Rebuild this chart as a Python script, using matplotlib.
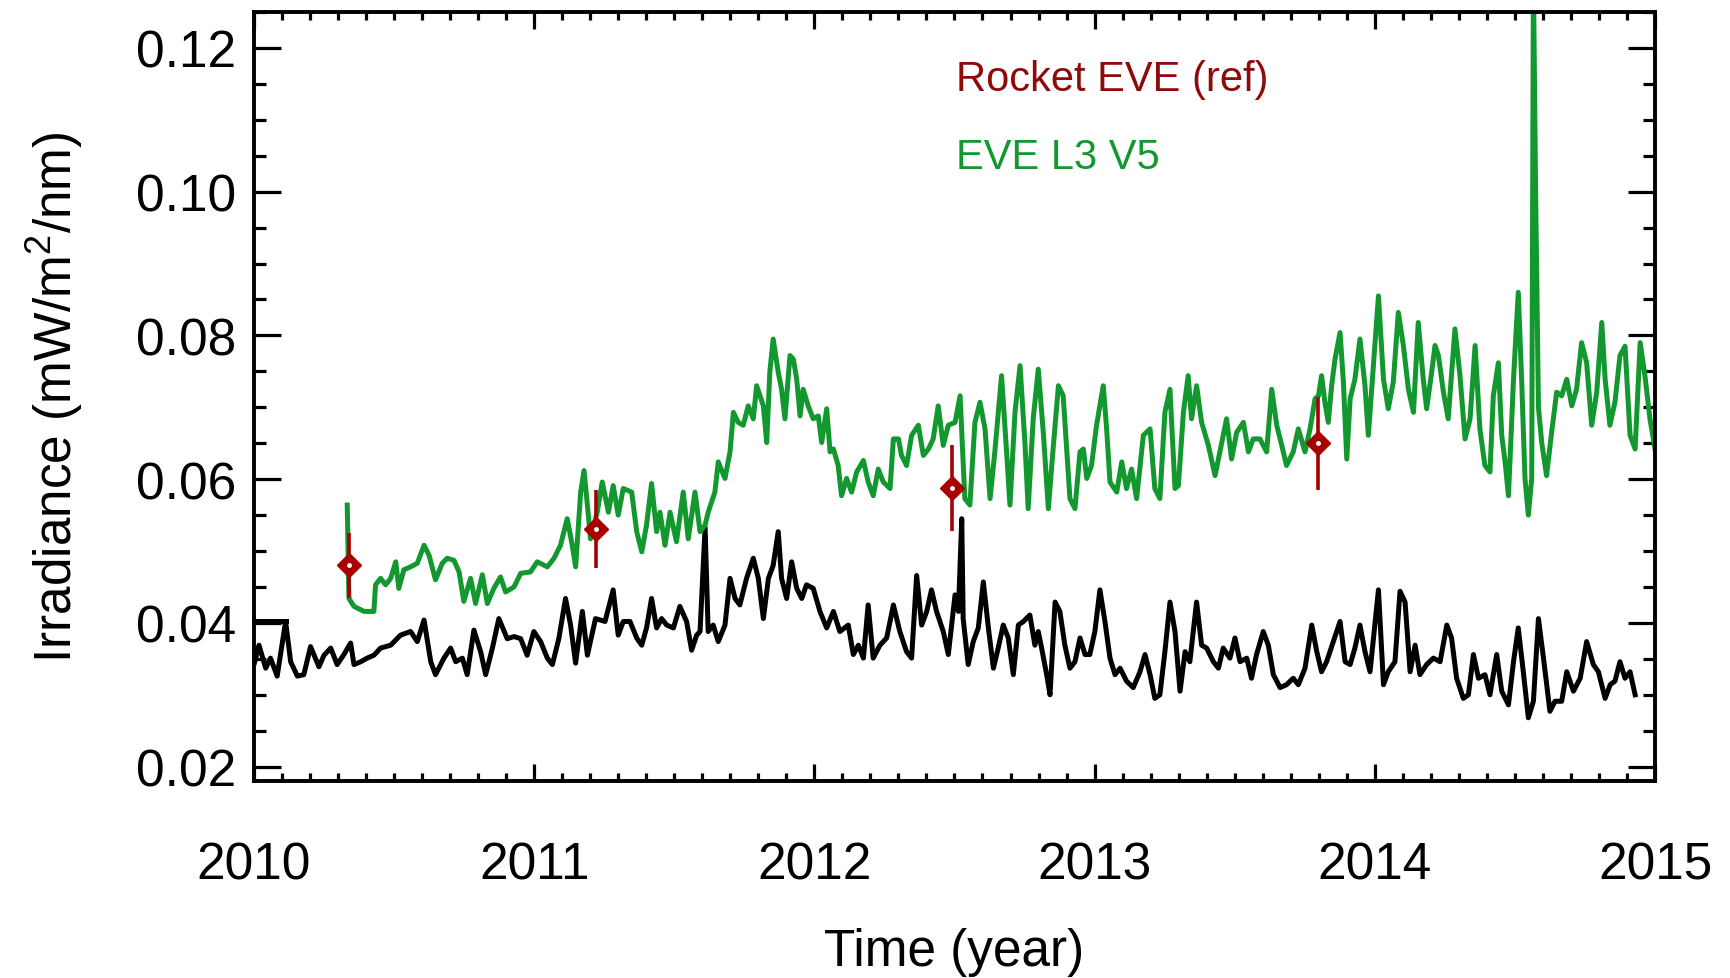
import matplotlib
matplotlib.use("Agg")
import matplotlib.pyplot as plt
from matplotlib.ticker import MultipleLocator, FormatStrFormatter

# black curve (turning points)
black_t = [
    2010.000, 2010.018, 2010.042, 2010.059, 2010.083, 2010.113, 2010.131, 2010.155,
    2010.178, 2010.202, 2010.232, 2010.250, 2010.274, 2010.297, 2010.321, 2010.345,
    2010.357, 2010.381, 2010.404, 2010.428, 2010.452, 2010.488, 2010.523, 2010.559,
    2010.583, 2010.607, 2010.631, 2010.648, 2010.678, 2010.702, 2010.720, 2010.744,
    2010.761, 2010.785, 2010.809, 2010.827, 2010.851, 2010.874, 2010.904, 2010.928,
    2010.952, 2010.975, 2010.999, 2011.023, 2011.047, 2011.065, 2011.088, 2011.112,
    2011.130, 2011.148, 2011.172, 2011.190, 2011.219, 2011.253, 2011.282, 2011.300,
    2011.318, 2011.342, 2011.366, 2011.384, 2011.401, 2011.419, 2011.437, 2011.455,
    2011.473, 2011.497, 2011.520, 2011.544, 2011.562, 2011.580, 2011.592, 2011.610,
    2011.621, 2011.639, 2011.657, 2011.681, 2011.699, 2011.717, 2011.734, 2011.758,
    2011.782, 2011.800, 2011.818, 2011.836, 2011.853, 2011.871, 2011.883, 2011.901,
    2011.919, 2011.937, 2011.955, 2011.972, 2011.996, 2012.020, 2012.044, 2012.068,
    2012.091, 2012.121, 2012.139, 2012.157, 2012.175, 2012.192, 2012.210, 2012.234,
    2012.258, 2012.282, 2012.305, 2012.329, 2012.347, 2012.365, 2012.383, 2012.401,
    2012.418, 2012.436, 2012.460, 2012.478, 2012.502, 2012.514, 2012.526, 2012.531,
    2012.549, 2012.567, 2012.585, 2012.603, 2012.621, 2012.639, 2012.656, 2012.674,
    2012.692, 2012.710, 2012.728, 2012.746, 2012.769, 2012.787, 2012.799, 2012.811,
    2012.829, 2012.841, 2012.859, 2012.876, 2012.894, 2012.912, 2012.930, 2012.948,
    2012.966, 2012.983, 2013.001, 2013.019, 2013.037, 2013.055, 2013.073, 2013.091,
    2013.114, 2013.138, 2013.162, 2013.180, 2013.198, 2013.215, 2013.233, 2013.251,
    2013.269, 2013.287, 2013.305, 2013.323, 2013.340, 2013.364, 2013.382, 2013.400,
    2013.424, 2013.442, 2013.459, 2013.483, 2013.501, 2013.519, 2013.543, 2013.560,
    2013.578, 2013.602, 2013.620, 2013.638, 2013.662, 2013.685, 2013.709, 2013.727,
    2013.751, 2013.775, 2013.793, 2013.810, 2013.828, 2013.852, 2013.876, 2013.894,
    2013.912, 2013.929, 2013.947, 2013.965, 2013.983, 2014.013, 2014.031, 2014.048,
    2014.072, 2014.090, 2014.108, 2014.126, 2014.144, 2014.161, 2014.185, 2014.209,
    2014.233, 2014.257, 2014.274, 2014.292, 2014.316, 2014.334, 2014.352, 2014.370,
    2014.393, 2014.411, 2014.435, 2014.453, 2014.477, 2014.495, 2014.512, 2014.530,
    2014.548, 2014.566, 2014.584, 2014.602, 2014.625, 2014.643, 2014.667, 2014.685,
    2014.709, 2014.733, 2014.756, 2014.780, 2014.798, 2014.822, 2014.840, 2014.857,
    2014.875, 2014.893, 2014.911, 2014.929,
]
black_v = [
    0.0342, 0.0369, 0.0337, 0.0351, 0.0326, 0.0402, 0.0346, 0.0326,
    0.0328, 0.0367, 0.0339, 0.0355, 0.0365, 0.0342, 0.0356, 0.0372,
    0.0342, 0.0346, 0.0351, 0.0355, 0.0365, 0.0369, 0.0383, 0.0388,
    0.0374, 0.0404, 0.0346, 0.0328, 0.0351, 0.0365, 0.0346, 0.0351,
    0.0328, 0.0390, 0.0360, 0.0328, 0.0365, 0.0406, 0.0378, 0.0381,
    0.0378, 0.0355, 0.0388, 0.0374, 0.0351, 0.0342, 0.0378, 0.0434,
    0.0397, 0.0344, 0.0416, 0.0355, 0.0406, 0.0402, 0.0446, 0.0383,
    0.0402, 0.0402, 0.0379, 0.0369, 0.0393, 0.0434, 0.0393, 0.0406,
    0.0397, 0.0393, 0.0423, 0.0402, 0.0362, 0.0383, 0.0388, 0.0533,
    0.0388, 0.0397, 0.0374, 0.0397, 0.0462, 0.0434, 0.0425, 0.0462,
    0.0490, 0.0462, 0.0406, 0.0462, 0.0480, 0.0527, 0.0462, 0.0434,
    0.0485, 0.0448, 0.0434, 0.0453, 0.0448, 0.0416, 0.0393, 0.0416,
    0.0388, 0.0397, 0.0356, 0.0369, 0.0351, 0.0425, 0.0351, 0.0369,
    0.0379, 0.0425, 0.0388, 0.0360, 0.0351, 0.0466, 0.0397, 0.0416,
    0.0446, 0.0416, 0.0388, 0.0356, 0.0439, 0.0416, 0.0545, 0.0406,
    0.0342, 0.0374, 0.0393, 0.0457, 0.0393, 0.0337, 0.0365, 0.0397,
    0.0379, 0.0328, 0.0397, 0.0402, 0.0411, 0.0369, 0.0388, 0.0365,
    0.0328, 0.0300, 0.0429, 0.0416, 0.0369, 0.0337, 0.0346, 0.0379,
    0.0356, 0.0356, 0.0388, 0.0446, 0.0402, 0.0351, 0.0328, 0.0337,
    0.0319, 0.0310, 0.0332, 0.0356, 0.0328, 0.0295, 0.0300, 0.0360,
    0.0429, 0.0388, 0.0305, 0.0360, 0.0346, 0.0429, 0.0369, 0.0365,
    0.0346, 0.0337, 0.0365, 0.0351, 0.0379, 0.0346, 0.0351, 0.0323,
    0.0356, 0.0388, 0.0369, 0.0328, 0.0310, 0.0314, 0.0323, 0.0314,
    0.0337, 0.0397, 0.0360, 0.0332, 0.0346, 0.0374, 0.0402, 0.0346,
    0.0342, 0.0365, 0.0397, 0.0360, 0.0332, 0.0446, 0.0314, 0.0332,
    0.0346, 0.0444, 0.0429, 0.0332, 0.0369, 0.0328, 0.0342, 0.0351,
    0.0346, 0.0397, 0.0379, 0.0323, 0.0295, 0.0300, 0.0356, 0.0323,
    0.0328, 0.0300, 0.0356, 0.0305, 0.0286, 0.0346, 0.0393, 0.0332,
    0.0268, 0.0291, 0.0406, 0.0351, 0.0277, 0.0291, 0.0291, 0.0332,
    0.0305, 0.0323, 0.0374, 0.0342, 0.0332, 0.0295, 0.0314, 0.0319,
    0.0346, 0.0323, 0.0332, 0.0300,
]
# short flat piece of the black curve at the very start
black_head_t = [2010.000, 2010.113]
black_head_v = [0.0402, 0.0402]

# EVE L3 V5 (green)
eve_t = [
    2010.333, 2010.339, 2010.357, 2010.393, 2010.428, 2010.434, 2010.452, 2010.470,
    2010.488, 2010.506, 2010.517, 2010.535, 2010.559, 2010.583, 2010.607, 2010.625,
    2010.648, 2010.672, 2010.690, 2010.714, 2010.732, 2010.749, 2010.773, 2010.791,
    2010.815, 2010.833, 2010.856, 2010.880, 2010.898, 2010.928, 2010.952, 2010.987,
    2011.011, 2011.047, 2011.071, 2011.094, 2011.118, 2011.136, 2011.148, 2011.166,
    2011.178, 2011.190, 2011.201, 2011.225, 2011.243, 2011.265, 2011.282, 2011.300,
    2011.318, 2011.348, 2011.366, 2011.384, 2011.401, 2011.419, 2011.437, 2011.449,
    2011.467, 2011.485, 2011.508, 2011.532, 2011.550, 2011.574, 2011.592, 2011.610,
    2011.621, 2011.645, 2011.657, 2011.681, 2011.699, 2011.711, 2011.728, 2011.746,
    2011.764, 2011.782, 2011.794, 2011.818, 2011.830, 2011.841, 2011.853, 2011.871,
    2011.883, 2011.895, 2011.913, 2011.925, 2011.937, 2011.949, 2011.960, 2011.978,
    2011.996, 2012.014, 2012.026, 2012.044, 2012.056, 2012.068, 2012.085, 2012.097,
    2012.115, 2012.133, 2012.151, 2012.175, 2012.192, 2012.210, 2012.228, 2012.246,
    2012.270, 2012.282, 2012.300, 2012.311, 2012.329, 2012.347, 2012.371, 2012.389,
    2012.407, 2012.424, 2012.442, 2012.460, 2012.478, 2012.502, 2012.520, 2012.537,
    2012.555, 2012.573, 2012.591, 2012.609, 2012.627, 2012.644, 2012.668, 2012.686,
    2012.698, 2012.716, 2012.734, 2012.752, 2012.763, 2012.781, 2012.799, 2012.817,
    2012.835, 2012.853, 2012.871, 2012.888, 2012.912, 2012.930, 2012.948, 2012.960,
    2012.972, 2012.989, 2013.007, 2013.031, 2013.043, 2013.055, 2013.079, 2013.097,
    2013.114, 2013.132, 2013.150, 2013.174, 2013.198, 2013.215, 2013.233, 2013.251,
    2013.269, 2013.287, 2013.299, 2013.317, 2013.334, 2013.346, 2013.364, 2013.382,
    2013.406, 2013.430, 2013.447, 2013.471, 2013.489, 2013.507, 2013.531, 2013.549,
    2013.566, 2013.590, 2013.614, 2013.632, 2013.650, 2013.668, 2013.685, 2013.709,
    2013.727, 2013.751, 2013.769, 2013.787, 2013.799, 2013.810, 2013.822, 2013.834,
    2013.846, 2013.858, 2013.876, 2013.888, 2013.900, 2013.912, 2013.929, 2013.947,
    2013.965, 2013.977, 2013.995, 2014.013, 2014.031, 2014.048, 2014.066, 2014.084,
    2014.102, 2014.120, 2014.138, 2014.155, 2014.173, 2014.185, 2014.203, 2014.215,
    2014.227, 2014.245, 2014.262, 2014.286, 2014.304, 2014.322, 2014.340, 2014.358,
    2014.375, 2014.393, 2014.411, 2014.423, 2014.441, 2014.453, 2014.465, 2014.477,
    2014.495, 2014.512, 2014.524, 2014.536, 2014.548, 2014.560, 2014.566, 2014.574,
    2014.584, 2014.596, 2014.613, 2014.631, 2014.649, 2014.667, 2014.685, 2014.703,
    2014.720, 2014.738, 2014.756, 2014.774, 2014.792, 2014.810, 2014.822, 2014.839,
    2014.857, 2014.875, 2014.893, 2014.911, 2014.929, 2014.947, 2014.964, 2014.982,
    2015.000,
]
eve_v = [
    0.0564, 0.0434, 0.0423, 0.0416, 0.0416, 0.0453, 0.0462, 0.0453,
    0.0462, 0.0485, 0.0448, 0.0474, 0.0478, 0.0483, 0.0508, 0.0494,
    0.0460, 0.0483, 0.0490, 0.0487, 0.0471, 0.0430, 0.0462, 0.0427,
    0.0467, 0.0427, 0.0448, 0.0464, 0.0443, 0.0450, 0.0469, 0.0471,
    0.0485, 0.0478, 0.0490, 0.0508, 0.0545, 0.0508, 0.0478, 0.0582,
    0.0612, 0.0564, 0.0517, 0.0554, 0.0596, 0.0554, 0.0591, 0.0550,
    0.0587, 0.0582, 0.0527, 0.0499, 0.0536, 0.0594, 0.0527, 0.0554,
    0.0508, 0.0554, 0.0513, 0.0582, 0.0517, 0.0582, 0.0527, 0.0536,
    0.0554, 0.0582, 0.0624, 0.0601, 0.0638, 0.0693, 0.0679, 0.0675,
    0.0702, 0.0684, 0.0730, 0.0702, 0.0651, 0.0749, 0.0795, 0.0749,
    0.0725, 0.0684, 0.0772, 0.0767, 0.0739, 0.0688, 0.0725, 0.0702,
    0.0684, 0.0688, 0.0651, 0.0698, 0.0638, 0.0642, 0.0619, 0.0577,
    0.0601, 0.0582, 0.0610, 0.0626, 0.0596, 0.0577, 0.0614, 0.0596,
    0.0587, 0.0656, 0.0656, 0.0633, 0.0619, 0.0661, 0.0675, 0.0633,
    0.0642, 0.0656, 0.0702, 0.0647, 0.0675, 0.0679, 0.0716, 0.0573,
    0.0564, 0.0679, 0.0707, 0.0670, 0.0573, 0.0638, 0.0744, 0.0638,
    0.0564, 0.0693, 0.0758, 0.0647, 0.0559, 0.0684, 0.0753, 0.0665,
    0.0559, 0.0647, 0.0730, 0.0716, 0.0573, 0.0559, 0.0638, 0.0642,
    0.0601, 0.0619, 0.0675, 0.0730, 0.0670, 0.0596, 0.0582, 0.0624,
    0.0587, 0.0614, 0.0573, 0.0661, 0.0670, 0.0587, 0.0573, 0.0693,
    0.0725, 0.0587, 0.0591, 0.0693, 0.0744, 0.0684, 0.0730, 0.0679,
    0.0647, 0.0605, 0.0638, 0.0684, 0.0628, 0.0665, 0.0679, 0.0638,
    0.0656, 0.0656, 0.0638, 0.0725, 0.0675, 0.0647, 0.0619, 0.0638,
    0.0670, 0.0638, 0.0670, 0.0712, 0.0716, 0.0744, 0.0707, 0.0679,
    0.0730, 0.0767, 0.0804, 0.0735, 0.0628, 0.0712, 0.0739, 0.0795,
    0.0730, 0.0661, 0.0758, 0.0855, 0.0739, 0.0698, 0.0735, 0.0832,
    0.0786, 0.0725, 0.0693, 0.0818, 0.0739, 0.0698, 0.0749, 0.0786,
    0.0772, 0.0721, 0.0684, 0.0809, 0.0744, 0.0656, 0.0684, 0.0786,
    0.0670, 0.0619, 0.0610, 0.0716, 0.0762, 0.0661, 0.0624, 0.0577,
    0.0739, 0.0860, 0.0739, 0.0601, 0.0550, 0.0601, 0.1300, 0.0999,
    0.0700, 0.0650, 0.0605, 0.0665, 0.0721, 0.0716, 0.0739, 0.0702,
    0.0725, 0.0790, 0.0762, 0.0675, 0.0721, 0.0818, 0.0739, 0.0675,
    0.0707, 0.0772, 0.0785, 0.0661, 0.0642, 0.0790, 0.0744, 0.0684,
    0.0642,
]

# rocket underflight reference points
rocket_t = [2010.339, 2011.220, 2012.490, 2013.798]
rocket_v = [0.0480, 0.0531, 0.0588, 0.0650]
rocket_err = [0.0045, 0.0054, 0.0060, 0.0065]

GREEN = '#13982f'
DARKRED = '#8e0a0a'
RED = '#a80000'


def plot_irradiance():
    plt.rcParams['font.family'] = ['Liberation Sans', 'DejaVu Sans']
    plt.rcParams['mathtext.fontset'] = 'custom'
    plt.rcParams['mathtext.rm'] = 'Liberation Sans'
    plt.rcParams['mathtext.it'] = 'Liberation Sans'

    fig = plt.figure(figsize=(17.31, 9.79), dpi=100)
    ax = fig.add_axes([0.1467, 0.2012, 0.8094, 0.7855])

    ax.plot(black_t, black_v, color='black', lw=3.6)
    ax.plot(black_head_t, black_head_v, color='black', lw=3.6)
    ax.plot(eve_t, eve_v, color=GREEN, lw=3.6)

    ax.errorbar(rocket_t, rocket_v, yerr=rocket_err, fmt='none',
                ecolor=RED, elinewidth=2.6, capsize=0, zorder=4)
    ax.plot(rocket_t, rocket_v, linestyle='none', marker='D', markersize=12,
            markerfacecolor=RED, markeredgecolor=RED, zorder=5)
    ax.plot(rocket_t, rocket_v, linestyle='none', marker='o', markersize=2.5,
            markerfacecolor='white', markeredgecolor='white', zorder=6)

    ax.text(2012.505, 0.1141, 'Rocket EVE (ref)', color=DARKRED, fontsize=30,
            va='baseline', ha='left')
    ax.text(2012.505, 0.1033, 'EVE L3 V5', color=GREEN, fontsize=30,
            va='baseline', ha='left')

    ax.set_xlim(2010, 2015)
    ax.set_ylim(0.018, 0.125)

    ax.xaxis.set_major_locator(MultipleLocator(1))
    ax.xaxis.set_minor_locator(MultipleLocator(0.1))
    ax.yaxis.set_major_locator(MultipleLocator(0.02))
    ax.yaxis.set_minor_locator(MultipleLocator(0.005))
    ax.yaxis.set_major_formatter(FormatStrFormatter('%.2f'))
    ax.xaxis.set_major_formatter(FormatStrFormatter('%d'))

    ax.tick_params(axis='both', which='both', direction='in',
                   top=True, right=True, width=2.3, colors='black')
    ax.tick_params(axis='x', which='major', length=12, pad=43, labelsize=37)
    ax.tick_params(axis='x', which='minor', length=6)
    ax.tick_params(axis='y', which='major', length=19.5, pad=13, labelsize=37)
    ax.tick_params(axis='y', which='minor', length=8.5)
    for sp in ax.spines.values():
        sp.set_linewidth(2.8)

    ax.set_xlabel('Time (year)', fontsize=37, va='center')
    ax.xaxis.set_label_coords(0.5, -0.222)
    ax.set_ylabel('Irradiance (mW/m$^2$/nm)', fontsize=37, va='center')
    ax.yaxis.set_label_coords(-0.142, 0.5)

    fig.savefig('out.png', dpi=100)


def main():
    plot_irradiance()


if __name__ == '__main__':
    main()
